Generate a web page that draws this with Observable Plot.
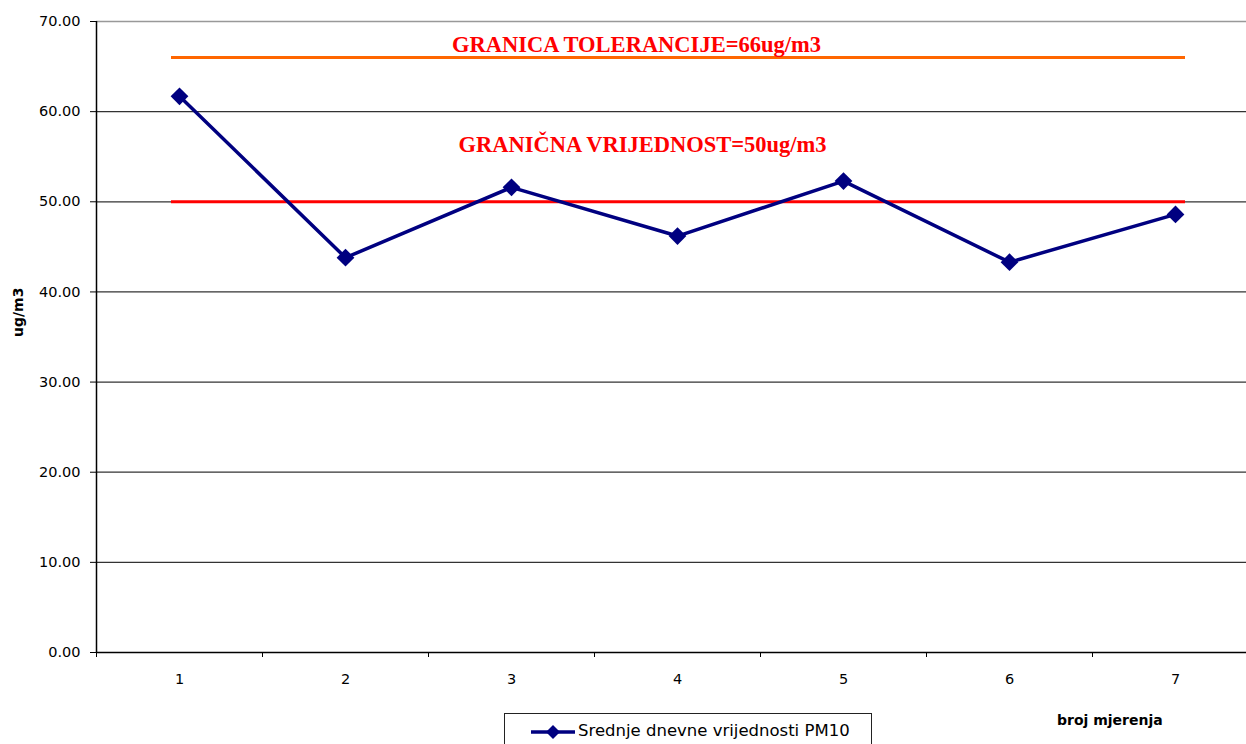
<!DOCTYPE html>
<html>
<head>
<meta charset="utf-8">
<script src="https://cdn.jsdelivr.net/npm/d3@7"></script>
<script src="https://cdn.jsdelivr.net/npm/@observablehq/plot@0.6"></script>
<style>
  html, body { margin: 0; padding: 0; background: #fff; overflow: hidden; }
  #wrap { position: relative; width: 1246px; height: 744px; overflow: hidden; }
  #legend { position: absolute; left: 504px; top: 713px; width: 366px; height: 40px;
    border: 1px solid #222; background: #fff; font-family: "DejaVu Sans", sans-serif; font-size: 16.5px; color: #000; }
  #legend svg { position: absolute; left: 26px; top: 8px; }
  #legend span { position: absolute; left: 73px; top: 7px; white-space: nowrap; }
  #xlabel { position: absolute; left: 1057px; top: 712px; font-family: "DejaVu Sans", sans-serif;
    font-weight: bold; font-size: 14px; color: #000; white-space: nowrap; }
</style>
</head>
<body>
<div id="wrap"></div>
<script>
// ---- data ----
const categories = [1, 2, 3, 4, 5, 6, 7];
const pm10 = [61.7, 43.8, 51.6, 46.2, 52.3, 43.3, 48.6];
const yTicks = [0, 10, 20, 30, 40, 50, 60, 70];
const toleranceValue = 66;
const toleranceLabel = "GRANICA TOLERANCIJE=66ug/m3";
const limitValue = 50;
const limitLabel = "GRANIČNA VRIJEDNOST=50ug/m3";
const seriesName = "Srednje dnevne vrijednosti PM10";
const xTitle = "broj mjerenja";
const yTitle = "ug/m3";

const data = categories.map((c, i) => ({x: c, y: pm10[i]}));
const bandEdges = d3.range(categories.length + 1).map(i => categories[0] - 0.5 + i);
const first = categories[0], last = categories[categories.length - 1];

const chart = Plot.plot({
  width: 1246,
  height: 712,
  marginTop: 21,
  marginBottom: 60,
  marginLeft: 96,
  marginRight: 0,
  style: {fontFamily: "'DejaVu Sans', sans-serif", fontSize: "14.5px", color: "#000", overflow: "visible"},
  x: {type: "linear", domain: [first - 0.5, last + 0.5], range: [96, 1258]},
  y: {domain: [0, 70]},
  marks: [
    Plot.ruleY(yTicks.filter(v => v > 0 && v < 70), {stroke: "#333", strokeWidth: 1.2}),
    Plot.ruleY([70], {stroke: "#999", strokeWidth: 1.5}),
    Plot.ruleY([toleranceValue], {x1: first, x2: last, insetLeft: -8, insetRight: -10, stroke: "#ff6600", strokeWidth: 3}),
    Plot.ruleY([limitValue], {x1: first, x2: last, insetLeft: -8, insetRight: -10, stroke: "#ff0000", strokeWidth: 3}),
    Plot.ruleY([0], {stroke: "#000", strokeWidth: 1.5}),
    Plot.ruleX([first - 0.5], {stroke: "#000", strokeWidth: 1.5}),
    Plot.axisY({ticks: yTicks, tickFormat: d3.format(".2f"), tickSize: 6, tickPadding: 10, label: null, stroke: "#000"}),
    Plot.axisX({ticks: bandEdges, tickFormat: () => "", tickSize: 5, label: null, stroke: "#000"}),
    Plot.axisX({ticks: categories, tickFormat: d => String(d), tickSize: 0, tickPadding: 21, label: null}),
    Plot.text([yTitle], {frameAnchor: "left", rotate: -90, dx: -78, fontWeight: "bold", fontSize: 14}),
    Plot.text([toleranceLabel], {x: 4, y: toleranceValue, dx: -41, dy: -13, fill: "#ff0000",
      fontFamily: "'Liberation Serif', serif", fontWeight: "bold", fontSize: 22.5}),
    Plot.text([limitLabel], {x: 4, y: limitValue, dx: -35, dy: -56.5, fill: "#ff0000",
      fontFamily: "'Liberation Serif', serif", fontWeight: "bold", fontSize: 22.5}),
    Plot.line(data, {x: "x", y: "y", stroke: "#000080", strokeWidth: 3.5}),
    Plot.dot(data, {x: "x", y: "y", symbol: "diamond2", r: 8, fill: "#000080", stroke: "none"})
  ]
});

const wrap = document.getElementById("wrap");
wrap.appendChild(chart);

const legend = document.createElement("div");
legend.id = "legend";
legend.innerHTML = `<svg width="46" height="20"><line x1="0" y1="10" x2="44" y2="10" stroke="#000080" stroke-width="3.5"/><path d="M22,3 L29,10 L22,17 L15,10 Z" fill="#000080"/></svg><span></span>`;
legend.querySelector("span").textContent = seriesName;
wrap.appendChild(legend);

const xl = document.createElement("div");
xl.id = "xlabel";
xl.textContent = xTitle;
wrap.appendChild(xl);
</script>
</body>
</html>
